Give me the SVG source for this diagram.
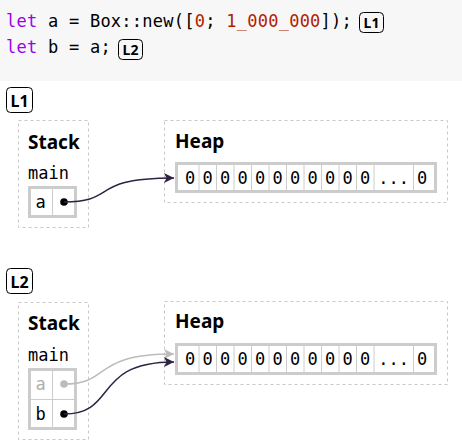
<svg xmlns="http://www.w3.org/2000/svg" width="462" height="445" viewBox="0 0 462 445">
<defs>
<style>
.code{font-family:"DejaVu Sans Mono","Liberation Mono",monospace;font-size:17px;letter-spacing:0.25px;fill:#000}
.kw{fill:#9d00ec}
.num{fill:#b21e00}
.mono{font-family:"DejaVu Sans Mono","Liberation Mono",monospace;font-size:17px;fill:#000}
.title{font-family:"Noto Sans","Open Sans",sans-serif;font-weight:bold;font-size:19px;fill:#000}
.badge{fill:#fff;stroke:#000;stroke-width:1}
.btext{font-family:"Noto Sans","Open Sans",sans-serif;font-weight:bold;fill:#000;text-anchor:middle}
.frame{fill:#fff;stroke:#c8c8c8;stroke-width:1;stroke-dasharray:3 3}
.box{fill:#fff;stroke:#cccccc;stroke-width:3}
.div{stroke:#cccccc;stroke-width:1}
.cell{text-anchor:middle}
.dark{fill:none;stroke:#2e2340;stroke-width:1.5}
.grey{fill:none;stroke:#bcbcbc;stroke-width:1.5}
</style>
<marker id="ahDark" viewBox="0 0 10 10" refX="10" refY="5" markerWidth="10" markerHeight="10" markerUnits="userSpaceOnUse" orient="auto">
<path d="M0,0 L10,5 L0,10 L2.5,5 z" fill="#2e2340"/>
</marker>
<marker id="ahGrey" viewBox="0 0 10 10" refX="10" refY="5" markerWidth="10" markerHeight="10" markerUnits="userSpaceOnUse" orient="auto">
<path d="M0,0 L10,5 L0,10 L2.5,5 z" fill="#bcbcbc"/>
</marker>
<pattern id="hatch" width="10" height="10" patternUnits="userSpaceOnUse" patternTransform="rotate(45)">
<rect width="10" height="10" fill="#fff"/>
<rect width="4.5" height="10" fill="#e3e3e3"/>
</pattern>
</defs>

<rect x="0" y="0" width="462" height="81" fill="#f6f7f6"/>

<g id="code">
<text class="code" x="6" y="27"><tspan class="kw">let</tspan> a = Box::new([<tspan class="num">0</tspan>; <tspan class="num">1_000_000</tspan>]);</text>
<text class="code" x="6" y="53"><tspan class="kw">let</tspan> b = a;</text>
<rect x="359.5" y="12.5" width="24" height="20" rx="4" fill="none" stroke="#000"/>
<text class="btext" x="371.5" y="27.5" font-size="14">L1</text>
<rect x="118.5" y="39.5" width="24" height="20" rx="4" fill="none" stroke="#000"/>
<text class="btext" x="130.5" y="54.5" font-size="14">L2</text>
</g>

<g id="badge-L1">
<rect class="badge" x="6.5" y="87.5" width="26" height="25" rx="4"/>
<text class="btext" x="19.5" y="106.5" font-size="16">L1</text>
</g>

<g id="stack-L1">
<rect class="frame" x="18.5" y="120.5" width="70" height="107"/>
<text class="title" x="28" y="149">Stack</text>
<text class="mono" x="28" y="179">main</text>
<rect class="box" x="29.5" y="187.5" width="46" height="29"/>
<line class="div" x1="52.5" y1="187" x2="52.5" y2="217"/>
<text class="mono cell" x="40.5" y="208">a</text>
<circle cx="64" cy="202" r="3.8" fill="#000"/>
</g>

<g id="heap-L1">
<rect class="frame" x="164.5" y="120.5" width="283" height="82"/>
<text class="title" x="175" y="148">Heap</text>
<rect class="box" x="176.5" y="163.5" width="259" height="28"/>
<g class="div">
<line x1="199" y1="164" x2="199" y2="191"/><line x1="216.5" y1="164" x2="216.5" y2="191"/><line x1="234" y1="164" x2="234" y2="191"/><line x1="251.5" y1="164" x2="251.5" y2="191"/><line x1="269" y1="164" x2="269" y2="191"/><line x1="286.5" y1="164" x2="286.5" y2="191"/><line x1="304" y1="164" x2="304" y2="191"/><line x1="321.5" y1="164" x2="321.5" y2="191"/><line x1="339" y1="164" x2="339" y2="191"/><line x1="356.5" y1="164" x2="356.5" y2="191"/><line x1="374" y1="164" x2="374" y2="191"/><line x1="413.5" y1="164" x2="413.5" y2="191"/>
</g>
<g class="mono cell">
<text x="190" y="184">0</text><text x="207.7" y="184">0</text><text x="225.2" y="184">0</text><text x="242.7" y="184">0</text><text x="260.2" y="184">0</text><text x="277.7" y="184">0</text><text x="295.2" y="184">0</text><text x="312.7" y="184">0</text><text x="330.2" y="184">0</text><text x="347.7" y="184">0</text><text x="365.2" y="184">0</text><text x="393.7" y="184">...</text><text x="422" y="184">0</text>
</g>
</g>

<g id="badge-L2">
<rect class="badge" x="6.5" y="268.5" width="26" height="25" rx="4"/>
<text class="btext" x="19.5" y="287.5" font-size="16">L2</text>
</g>

<g id="stack-L2">
<rect class="frame" x="18.5" y="302.5" width="70" height="137"/>
<text class="title" x="28" y="330">Stack</text>
<text class="mono" x="28" y="361">main</text>
<rect x="29.5" y="369.5" width="46" height="30" fill="url(#hatch)"/>
<rect class="box" x="29.5" y="369.5" width="46" height="59" fill="none"/>
<line class="div" x1="29" y1="399.5" x2="76" y2="399.5"/>
<line class="div" x1="52.5" y1="369" x2="52.5" y2="429"/>
<text class="mono cell" x="40.5" y="390" style="fill:#b0b0b0">a</text>
<circle cx="64" cy="384" r="3.8" fill="#bcbcbc"/>
<text class="mono cell" x="40.5" y="420">b</text>
<circle cx="64" cy="414" r="3.8" fill="#000"/>
</g>

<g id="heap-L2">
<rect class="frame" x="164.5" y="301.5" width="283" height="83"/>
<text class="title" x="175" y="328">Heap</text>
<rect class="box" x="176.5" y="344.5" width="259" height="29"/>
<g class="div">
<line x1="199" y1="345" x2="199" y2="373"/><line x1="216.5" y1="345" x2="216.5" y2="373"/><line x1="234" y1="345" x2="234" y2="373"/><line x1="251.5" y1="345" x2="251.5" y2="373"/><line x1="269" y1="345" x2="269" y2="373"/><line x1="286.5" y1="345" x2="286.5" y2="373"/><line x1="304" y1="345" x2="304" y2="373"/><line x1="321.5" y1="345" x2="321.5" y2="373"/><line x1="339" y1="345" x2="339" y2="373"/><line x1="356.5" y1="345" x2="356.5" y2="373"/><line x1="374" y1="345" x2="374" y2="373"/><line x1="413.5" y1="345" x2="413.5" y2="373"/>
</g>
<g class="mono cell">
<text x="190" y="365">0</text><text x="207.7" y="365">0</text><text x="225.2" y="365">0</text><text x="242.7" y="365">0</text><text x="260.2" y="365">0</text><text x="277.7" y="365">0</text><text x="295.2" y="365">0</text><text x="312.7" y="365">0</text><text x="330.2" y="365">0</text><text x="347.7" y="365">0</text><text x="365.2" y="365">0</text><text x="393.7" y="365">...</text><text x="422" y="365">0</text>
</g>
</g>

<g id="connectors">
<path class="dark" d="M64,202 C118,202 88,178 174,178" marker-end="url(#ahDark)"/>
<path class="grey" d="M64,384 C112,384 90,354 174,354" marker-end="url(#ahGrey)"/>
<path class="dark" d="M64,414 C118,414 92,362 174,362" marker-end="url(#ahDark)"/>
</g>
</svg>
